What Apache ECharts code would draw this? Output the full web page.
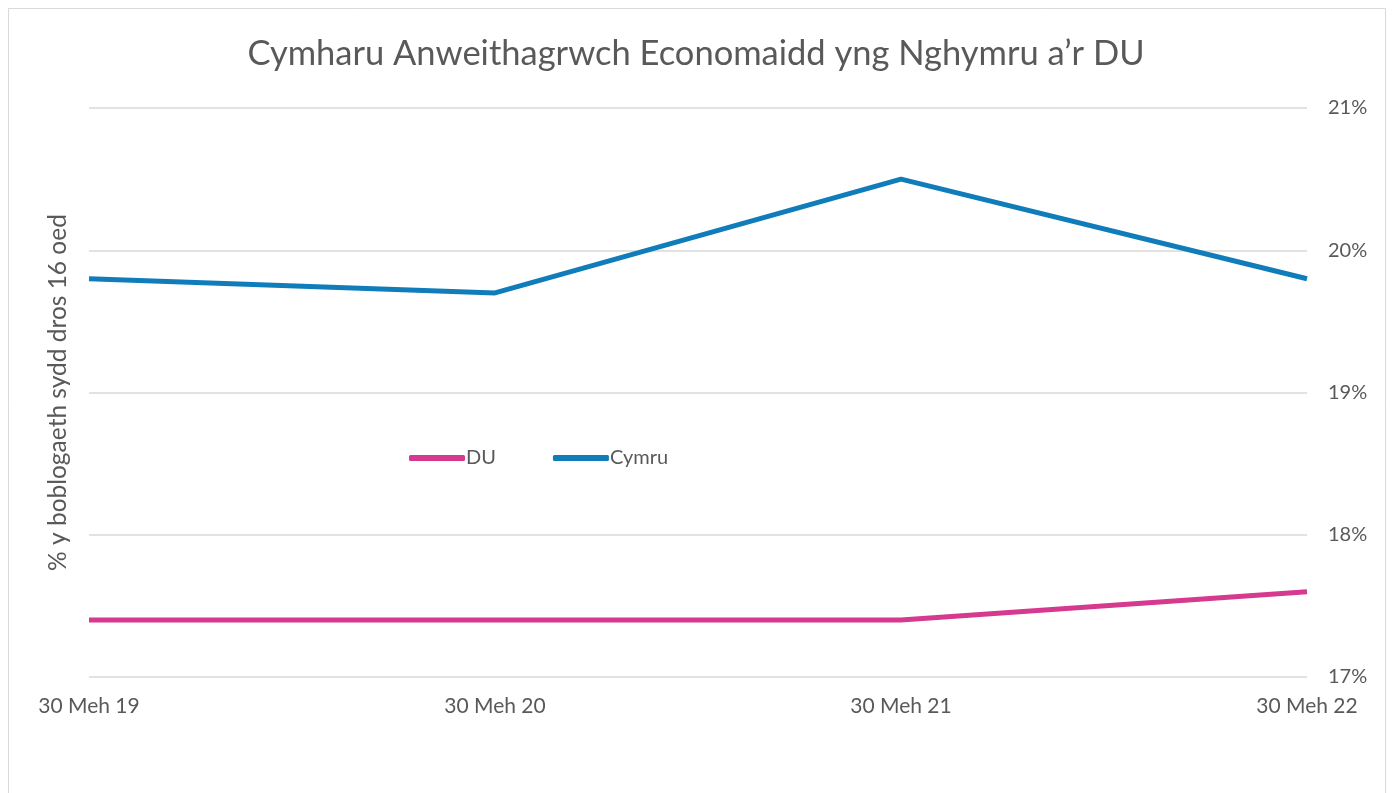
<!DOCTYPE html>
<html>
<head>
<meta charset="utf-8">
<script src="https://cdn.jsdelivr.net/npm/echarts@6/dist/echarts.min.js"></script>
<style>
  html, body { margin: 0; padding: 0; background: #fff; }
  #chart { width: 1392px; height: 793px; }
</style>
</head>
<body>
<div id="chart"></div>
<script>
// data
var categories = ['30 Meh 19', '30 Meh 20', '30 Meh 21', '30 Meh 22'];
var duValues = [17.4, 17.4, 17.4, 17.6];     // DU
var cymruValues = [19.8, 19.7, 20.5, 19.8];  // Cymru
var seriesNames = ['DU', 'Cymru'];

var chart = echarts.init(document.getElementById('chart'));
var font = 'Lato, "Open Sans", sans-serif';

var option = {
    backgroundColor: '#fff',
    animation: false,
    title: {
        text: 'Cymharu Anweithagrwch Economaidd yng Nghymru a\u2019r DU',
        left: 'center',
        top: 31,
        textStyle: { color: '#595959', fontSize: 34.5, fontWeight: 'normal', fontFamily: font }
    },
    graphic: [{
        type: 'rect',
        shape: { x: 8.5, y: 8.5, width: 1377, height: 800 },
        style: { fill: 'none', stroke: '#d9d9d9', lineWidth: 1 },
        silent: true
    }],
    legend: {
        data: seriesNames,
        left: 404,
        top: 443,
        itemWidth: 56,
        itemHeight: 6,
        itemGap: 57,
        icon: 'roundRect',
        textStyle: { color: '#595959', fontSize: 20, fontFamily: font, padding: [0, 0, 0, -4] }
    },
    grid: { left: 89, right: 85, top: 108, bottom: 116, containLabel: false },
    xAxis: {
        type: 'category',
        boundaryGap: false,
        data: categories,
        axisLine: { show: false },
        axisTick: { show: false },
        axisLabel: { color: '#595959', fontSize: 21, fontFamily: font, margin: 19 }
    },
    yAxis: [{
        type: 'value',
        position: 'right',
        min: 17, max: 21, interval: 1,
        axisLine: { show: false },
        axisTick: { show: false },
        axisLabel: { color: '#595959', fontSize: 20, fontFamily: font, margin: 21, formatter: '{value}%' },
        splitLine: { lineStyle: { color: '#d9d9d9', width: 1.5 } }
    }, {
        type: 'value',
        position: 'left',
        min: 17, max: 21, interval: 1,
        name: '% y boblogaeth sydd dros 16 oed',
        nameLocation: 'middle',
        nameGap: 18,
        nameRotate: 90,
        nameTextStyle: { color: '#595959', fontSize: 24.5, fontFamily: font },
        axisLine: { show: false },
        axisTick: { show: false },
        axisLabel: { show: false },
        splitLine: { show: false }
    }],
    series: [{
        name: seriesNames[0],
        type: 'line',
        data: duValues,
        symbol: 'none',
        color: '#d63a8e',
        lineStyle: { width: 5, color: '#d63a8e' }
    }, {
        name: seriesNames[1],
        type: 'line',
        data: cymruValues,
        symbol: 'none',
        color: '#107dba',
        lineStyle: { width: 5, color: '#107dba' }
    }]
};

chart.setOption(option);
</script>
</body>
</html>
